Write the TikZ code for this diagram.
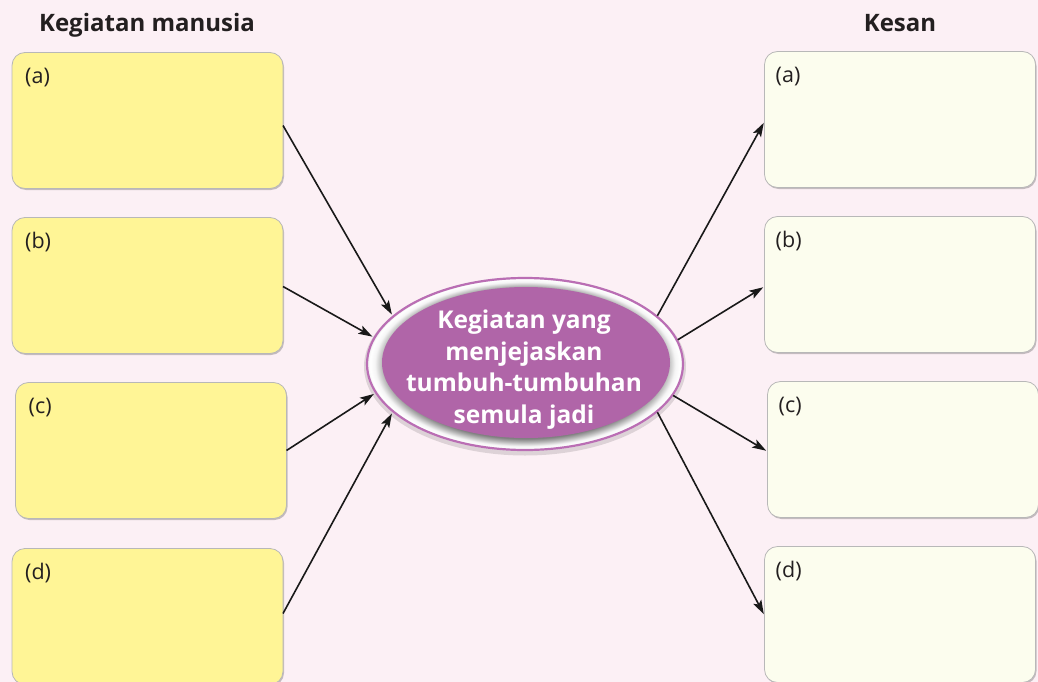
\documentclass[tikz,border=0pt]{standalone}
\usepackage{fontspec}
\setmainfont{Open Sans}
\usetikzlibrary{arrows.meta,shapes.geometric,shadows}

\definecolor{bgpink}{RGB}{252,240,245}
\definecolor{boxyellow}{RGB}{255,245,150}
\definecolor{boxcream}{RGB}{252,253,238}
\definecolor{orchid}{RGB}{176,101,168}
\definecolor{orchidline}{RGB}{186,110,180}
\definecolor{inkdark}{RGB}{35,31,32}

% soft grey ring between the purple core and the outer outline
\pgfdeclareradialshading{ringshade}{\pgfpoint{0bp}{0bp}}{%
  color(0bp)=(black!50);
  color(21.4bp)=(black!50);
  color(22.4bp)=(black!30);
  color(23.6bp)=(black!4);
  color(24.4bp)=(white);
  color(25bp)=(black!10);
  color(50bp)=(black!10)}

\tikzset{
  box/.style={rectangle, rounded corners=13pt, minimum width=271pt,
    minimum height=136pt, inner sep=0pt, outer sep=0pt,
    draw=black!28, line width=0.8pt,
    drop shadow={shadow xshift=1pt, shadow yshift=-1.5pt, opacity=0.22, fill=black}},
  actbox/.style={box, fill=boxyellow},
  effbox/.style={box, fill=boxcream},
  lbl/.style={anchor=base west, inner sep=0pt, text=inkdark,
    font=\fontsize{21.5}{25}\selectfont},
  heading/.style={anchor=base, inner sep=0pt, text=inkdark,
    font=\fontsize{24}{28}\selectfont\bfseries},
  link/.style={draw=black!90, line width=1.6pt,
    -{Stealth[length=14pt,width=9pt,inset=3pt]}, shorten >=1.5pt}
}

\begin{document}
\begin{tikzpicture}[x=1pt,y=-1pt]
  \useasboundingbox (0,0) rectangle (1038,682);
  \fill[bgpink] (0,0) rectangle (1038,682);

  % column headings
  \node[heading] (hleft) at (147,32) {Kegiatan manusia};
  \node[heading] (hright) at (900,32) {Kesan};

  % human activities (left column)
  \node[actbox] (la) at (147.5,120.5) {};
  \node[actbox] (lb) at (147.5,285.5) {};
  \node[actbox] (lc) at (151,450.5) {};
  \node[actbox] (ld) at (147.5,616.5) {};

  % effects (right column)
  \node[effbox] (ra) at (900,119.5) {};
  \node[effbox] (rb) at (900,284.5) {};
  \node[effbox] (rc) at (903,449.5) {};
  \node[effbox] (rd) at (900,614.5) {};

  % item labels
  \node[lbl] (tla) at ([xshift=13pt,yshift=-31pt]la.north west) {(a)};
  \node[lbl] (tlb) at ([xshift=13pt,yshift=-31pt]lb.north west) {(b)};
  \node[lbl] (tlc) at ([xshift=13pt,yshift=-31pt]lc.north west) {(c)};
  \node[lbl] (tld) at ([xshift=13pt,yshift=-31pt]ld.north west) {(d)};
  \node[lbl] (tra) at ([xshift=11pt,yshift=-31pt]ra.north west) {(a)};
  \node[lbl] (trb) at ([xshift=11pt,yshift=-31pt]rb.north west) {(b)};
  \node[lbl] (trc) at ([xshift=11pt,yshift=-31pt]rc.north west) {(c)};
  \node[lbl] (trd) at ([xshift=11pt,yshift=-31pt]rd.north west) {(d)};

  % central ellipse: faint shadow, shaded ring, outline, purple core, caption
  \fill[black, opacity=0.12] (525,366.5) ellipse [x radius=161pt, y radius=89pt];
  \node[ellipse, minimum width=318pt, minimum height=174pt, inner sep=0pt,
        outer sep=0pt, shading=ringshade] (el) at (525,364) {};
  \draw[orchidline, line width=2.2pt] (el.center) ellipse [x radius=158pt, y radius=86pt];
  \node[ellipse, minimum width=288pt, minimum height=151pt, inner sep=0pt,
        fill=orchid] (core) at (526,362.5) {};
  \node[text=white, align=center, inner sep=0pt,
        font=\fontsize{24.5}{31.5}\selectfont\bfseries] (caption)
        at ([xshift=-2pt,yshift=-7pt]core.center)
        {Kegiatan yang\\menjejaskan\\tumbuh-tumbuhan\\semula jadi};

  % activities lead into the centre
  \draw[link] ([yshift=-5pt]la.east) -- (el.160);
  \draw[link] ([yshift=-1pt]lb.east) -- (el.170);
  \draw[link] (lc.east) -- (el.191);
  \draw[link] ([yshift=3pt]ld.east) -- (el.200);

  % the centre leads out to its effects
  \draw[link] (el.20) -- ([yshift=-2pt]ra.west);
  \draw[link] (el.9.5) -- ([yshift=-2pt]rb.west);
  \draw[link] (el.-12.5) -- ([yshift=-2pt]rc.west);
  \draw[link] (el.-20) -- ([yshift=-1pt]rd.west);
\end{tikzpicture}
\end{document}
